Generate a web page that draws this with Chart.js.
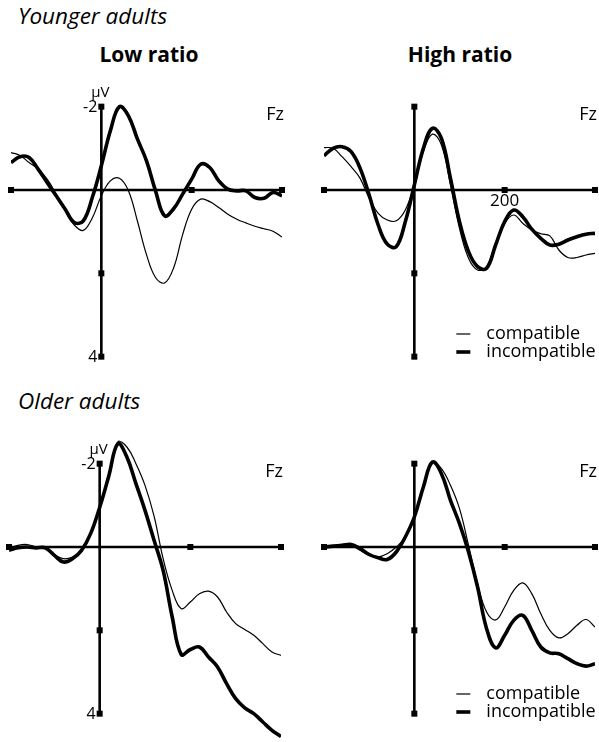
<!DOCTYPE html>
<html>
<head>
<meta charset="utf-8">
<script src="https://cdn.jsdelivr.net/npm/chart.js"></script>
<style>
  body { margin: 0; width: 599px; height: 742px; overflow: hidden; background: #fff; position: relative; font-family: "Open Sans", sans-serif; }
  .lbl { position: absolute; white-space: nowrap; line-height: 1; color: #000; }
  canvas { position: absolute; }
</style>
</head>
<body>
<div class="lbl" style="left:18px;top:5px;font-size:22.5px;font-style:italic">Younger adults</div>
<div class="lbl" style="left:149px;top:44px;font-size:21px;font-weight:bold;transform:translateX(-50%)">Low ratio</div>
<div class="lbl" style="left:460px;top:44px;font-size:21px;font-weight:bold;transform:translateX(-50%)">High ratio</div>
<div class="lbl" style="left:18px;top:390px;font-size:22.5px;font-style:italic">Older adults</div>

<canvas id="youngLow" width="295" height="349" style="left:-1px;top:53px"></canvas>
<canvas id="youngHigh" width="295" height="349" style="left:312px;top:53px"></canvas>
<canvas id="oldLow" width="296" height="349" style="left:-3px;top:410px"></canvas>
<canvas id="oldHigh" width="295" height="349" style="left:312px;top:410px"></canvas>

<script>
// time axis (ms) and axis ticks
const times = [-200, -180, -160, -140, -120, -100, -80, -60, -40, -20, 0, 20, 40, 60, 80, 100,
               120, 140, 160, 180, 200, 220, 240, 260, 280, 300, 320, 340, 360, 380, 400];
const xTicks = [-200, 200, 400];
const yTicks = [-2, 2, 4];
const yTickLabels = ['-2', '', '4'];
const seriesNames = ['compatible', 'incompatible'];

// amplitudes (µV), negative up
const youngLowCompatible = [-0.9, -0.83, -0.66, -0.5, -0.26, 0.1, 0.5, 0.84, 0.97, 0.67, 0.14, -0.22, -0.28, 0.02, 0.75, 1.55,
                            2.1, 2.23, 1.87, 1.07, 0.46, 0.22, 0.28, 0.42, 0.58, 0.7, 0.79, 0.87, 0.93, 0.99, 1.13];
const youngLowIncompatible = [-0.66, -0.8, -0.78, -0.5, -0.18, 0.14, 0.46, 0.78, 0.74, 0.18, -0.58, -1.42, -2.0, -1.78, -1.22, -0.7,
                              0.02, 0.62, 0.45, 0.1, -0.26, -0.62, -0.54, -0.22, -0.02, 0.02, 0.02, 0.18, 0.2, 0.06, 0.14];
const youngHighCompatible = [-1.02, -1.0, -0.8, -0.56, -0.28, 0.2, 0.56, 0.72, 0.74, 0.48, -0.12, -0.92, -1.34, -1.08, -0.12, 0.92,
                             1.64, 1.92, 1.84, 1.28, 0.8, 0.6, 0.8, 0.96, 1.05, 1.1, 1.44, 1.62, 1.62, 1.56, 1.52];
const youngHighIncompatible = [-0.82, -1.0, -1.04, -0.92, -0.52, 0.12, 0.84, 1.3, 1.36, 0.76, -0.12, -1.0, -1.48, -1.24, -0.28, 0.76,
                               1.48, 1.84, 1.88, 1.32, 0.76, 0.48, 0.64, 0.94, 1.16, 1.32, 1.3, 1.2, 1.12, 1.06, 1.04];
const oldLowCompatible = [0.04, -0.04, -0.06, 0, 0.04, 0.18, 0.28, 0.24, 0.08, -0.32, -0.92, -1.68, -2.52, -2.4, -2.0, -1.48,
                          -0.74, 0.28, 1.04, 1.48, 1.32, 1.12, 1.06, 1.2, 1.56, 1.84, 1.98, 2.12, 2.32, 2.52, 2.6];
const oldLowIncompatible = [0.08, 0.02, 0, 0.02, 0.02, 0.2, 0.36, 0.28, 0.08, -0.32, -0.95, -1.7, -2.48, -2.16, -1.52, -0.88,
                            -0.16, 0.56, 1.68, 2.58, 2.46, 2.4, 2.64, 2.88, 3.28, 3.64, 3.86, 4.0, 4.2, 4.4, 4.55];
const oldHighCompatible = [-0.02, -0.02, -0.06, -0.04, 0.08, 0.2, 0.24, 0.16, 0, -0.24, -0.72, -1.44, -2.04, -1.88, -1.48, -0.92,
                           -0.04, 0.88, 1.56, 1.75, 1.44, 1.04, 0.86, 1.12, 1.6, 2.0, 2.18, 2.08, 1.88, 1.74, 1.92];
const oldHighIncompatible = [0, -0.02, -0.04, -0.06, 0.04, 0.18, 0.26, 0.3, 0.12, -0.24, -0.72, -1.44, -2.04, -1.76, -1.12, -0.56,
                             0.12, 0.96, 1.96, 2.42, 2.12, 1.76, 1.64, 2.0, 2.4, 2.54, 2.56, 2.68, 2.8, 2.86, 2.8];

const PAD = 12;
const FONT = '"Open Sans", sans-serif';

// axes drawn by hand: cross through (0,0), square tick marks
const erpAxes = {
    id: 'erpAxes',
    afterDatasetsDraw(chart, args, opts) {
        const ctx = chart.ctx;
        const x = chart.scales.x, y = chart.scales.y;
        const x0 = x.getPixelForValue(0), y0 = y.getPixelForValue(0);
        const xEnd = x.getPixelForValue(times[times.length - 1]);
        ctx.save();
        ctx.strokeStyle = '#000';
        ctx.fillStyle = '#000';
        ctx.lineWidth = 2.6;
        ctx.beginPath();
        ctx.moveTo(x.getPixelForValue(times[0]), y0);
        ctx.lineTo(xEnd, y0);
        ctx.moveTo(x0, y.getPixelForValue(yTicks[0]));
        ctx.lineTo(x0, y.getPixelForValue(yTicks[yTicks.length - 1]));
        ctx.stroke();
        xTicks.forEach(t => ctx.fillRect(x.getPixelForValue(t) - 3, y0 - 3, 6, 6));
        yTicks.forEach(v => ctx.fillRect(x0 - 3, y.getPixelForValue(v) - 3, 6, 6));

        ctx.font = '18px ' + FONT;
        ctx.textBaseline = 'alphabetic';
        ctx.textAlign = 'right';
        ctx.fillText('Fz', xEnd + 2, y0 - 70);

        if (opts.yLabels) {
            ctx.font = '16px ' + FONT;
            ctx.textBaseline = 'middle';
            yTicks.forEach((v, i) => {
                if (yTickLabels[i]) ctx.fillText(yTickLabels[i], x0 - 4, y.getPixelForValue(v) + 0.5);
            });
            ctx.font = '15px ' + FONT;
            ctx.textAlign = 'center';
            ctx.textBaseline = 'alphabetic';
            ctx.fillText('µV', x0 - 1, y.getPixelForValue(yTicks[0]) - 10);
        }
        if (opts.xLabel) {
            ctx.font = '17px ' + FONT;
            ctx.textAlign = 'center';
            ctx.textBaseline = 'top';
            ctx.fillText(String(xTicks[1]), x.getPixelForValue(xTicks[1]), y0 + 3);
        }
        if (opts.legendY) {
            ctx.font = '18px ' + FONT;
            ctx.textAlign = 'left';
            ctx.textBaseline = 'middle';
            chart.data.datasets.forEach((ds, i) => {
                const ly = y0 + opts.legendY + i * 18;
                ctx.lineWidth = ds.borderWidth;
                ctx.beginPath();
                ctx.moveTo(x0 + 42, ly);
                ctx.lineTo(x0 + 56, ly);
                ctx.stroke();
                ctx.fillText(ds.label, x0 + 72, ly);
            });
        }
        ctx.restore();
    }
};

function makePanel(id, compatible, incompatible, opts) {
    new Chart(document.getElementById(id), {
        type: 'line',
        data: {
            datasets: [
                {
                    label: seriesNames[0],
                    data: times.map((t, i) => ({ x: t, y: compatible[i] })),
                    borderColor: '#000',
                    borderWidth: 1.2,
                    pointRadius: 0,
                    tension: 0.4
                },
                {
                    label: seriesNames[1],
                    data: times.map((t, i) => ({ x: t, y: incompatible[i] })),
                    borderColor: '#000',
                    borderWidth: 3.6,
                    pointRadius: 0,
                    tension: 0.4
                }
            ]
        },
        options: {
            responsive: false,
            animation: false,
            layout: { padding: PAD },
            plugins: {
                legend: { display: false },
                tooltip: { enabled: false },
                erpAxes: opts
            },
            scales: {
                x: { type: 'linear', min: -200, max: 400, display: false },
                y: { min: -3, max: 4.8, reverse: true, display: false }
            }
        },
        plugins: [erpAxes]
    });
}

makePanel('youngLow', youngLowCompatible, youngLowIncompatible, { yLabels: true });
makePanel('youngHigh', youngHighCompatible, youngHighIncompatible, { xLabel: true, legendY: 144 });
makePanel('oldLow', oldLowCompatible, oldLowIncompatible, { yLabels: true });
makePanel('oldHigh', oldHighCompatible, oldHighIncompatible, { legendY: 147 });
</script>
</body>
</html>
